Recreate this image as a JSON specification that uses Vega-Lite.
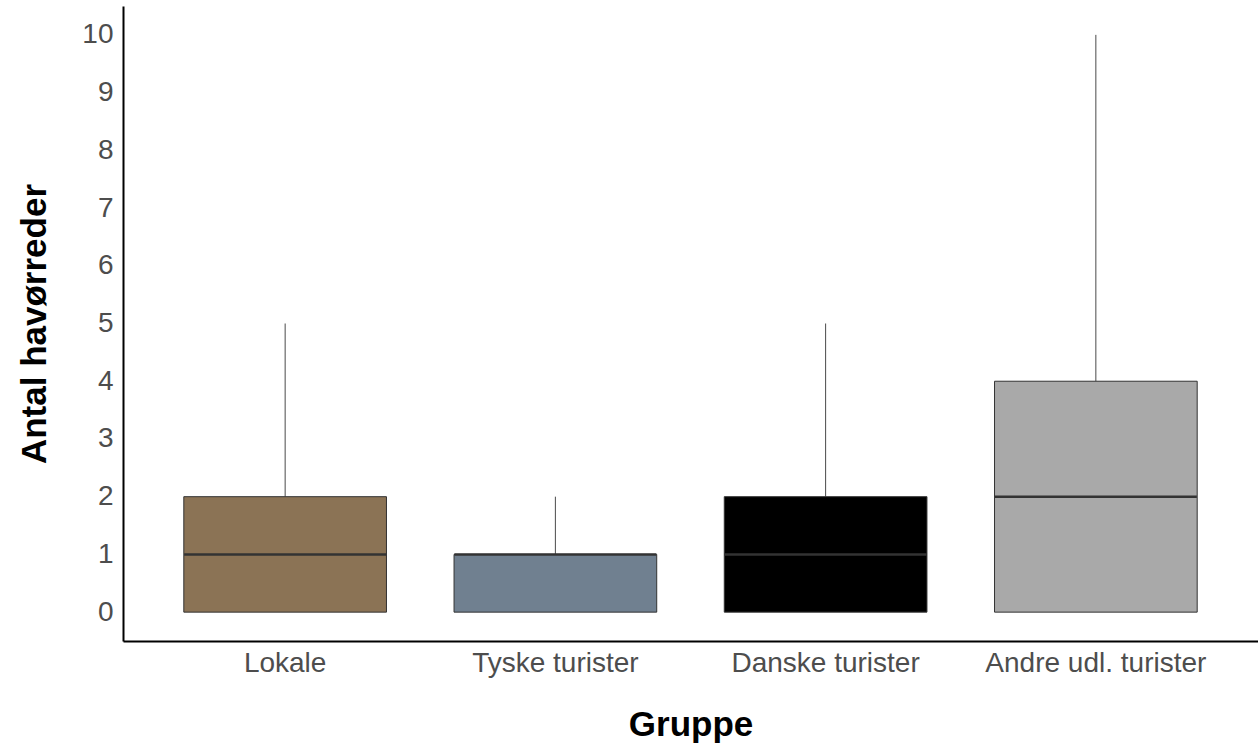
{
  "$schema": "https://vega.github.io/schema/vega-lite/v6.json",
  "autosize": {"type": "none"},
  "width": 1135,
  "height": 635,
  "padding": {"left": 123, "top": 6, "right": 0, "bottom": 103},
  "background": "white",
  "config": {
    "view": {"stroke": null},
    "font": "Liberation Sans"
  },
  "data": {
    "values": [
      {"gruppe": "Lokale", "min": 0, "q1": 0, "median": 1, "q3": 2, "max": 5},
      {"gruppe": "Tyske turister", "min": 0, "q1": 0, "median": 1, "q3": 1, "max": 2},
      {"gruppe": "Danske turister", "min": 0, "q1": 0, "median": 1, "q3": 2, "max": 5},
      {"gruppe": "Andre udl. turister", "min": 0, "q1": 0, "median": 2, "q3": 4, "max": 10}
    ]
  },
  "encoding": {
    "x": {
      "field": "gruppe",
      "type": "nominal",
      "sort": ["Lokale", "Tyske turister", "Danske turister", "Andre udl. turister"],
      "scale": {"paddingInner": 0.25, "paddingOuter": 0.225},
      "axis": {
        "title": "Gruppe",
        "titleFont": "Liberation Sans",
        "titleFontSize": 35,
        "titleFontWeight": "bold",
        "titleColor": "black",
        "titlePadding": 30,
        "labelFont": "Liberation Sans",
        "labelFontSize": 28,
        "labelColor": "#4D4D4D",
        "labelAngle": 0,
        "labelPadding": 8,
        "labelLimit": 0,
        "ticks": false,
        "tickSize": 0,
        "domainColor": "black",
        "domainWidth": 2,
        "grid": false
      }
    }
  },
  "layer": [
    {
      "mark": {"type": "rule", "color": "#4a4a4a", "strokeWidth": 1},
      "encoding": {
        "y": {
          "field": "q3",
          "type": "quantitative",
          "scale": {"domain": [-0.5, 10.5], "nice": false, "zero": false},
          "axis": {
            "title": "Antal havørreder",
            "titleFont": "Liberation Sans",
            "titleFontSize": 35,
            "titleFontWeight": "bold",
            "titleColor": "black",
            "titlePadding": 29,
            "labelFont": "Liberation Sans",
            "labelFontSize": 28,
            "labelColor": "#4D4D4D",
            "labelPadding": 10,
            "format": "d",
            "values": [0, 1, 2, 3, 4, 5, 6, 7, 8, 9, 10],
            "ticks": false,
            "tickSize": 0,
            "domainColor": "black",
            "domainWidth": 2,
            "grid": false
          }
        },
        "y2": {"field": "max"}
      }
    },
    {
      "mark": {"type": "bar", "stroke": "#333333", "strokeWidth": 1},
      "encoding": {
        "y": {"field": "q1", "type": "quantitative"},
        "y2": {"field": "q3"},
        "color": {
          "field": "gruppe",
          "type": "nominal",
          "scale": {
            "domain": ["Lokale", "Tyske turister", "Danske turister", "Andre udl. turister"],
            "range": ["#8B7355", "#708090", "#000000", "#A9A9A9"]
          },
          "legend": null
        }
      }
    },
    {
      "mark": {"type": "tick", "color": "#333333", "thickness": 2.5, "size": 202, "opacity": 1},
      "encoding": {
        "y": {"field": "median", "type": "quantitative"}
      }
    }
  ]
}
